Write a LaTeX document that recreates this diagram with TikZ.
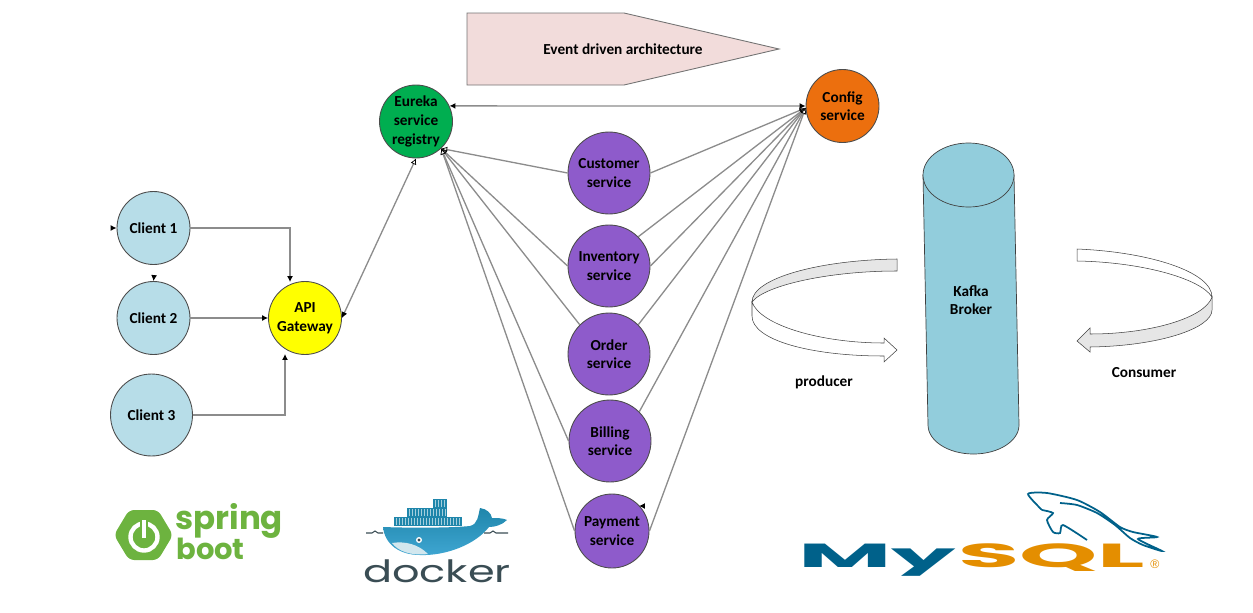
\documentclass[tikz,border=0pt]{standalone}
\usepackage{fontspec}
\setmainfont{Carlito}
\newfontfamily\logofont{Poppins}
\newfontfamily\regfont{Liberation Sans}
\usetikzlibrary{arrows.meta}
\definecolor{clientblue}{HTML}{B7DDE8}
\definecolor{svcpurple}{HTML}{8E5BCB}
\definecolor{eurekagreen}{HTML}{00AE50}
\definecolor{gateyellow}{HTML}{FFFF00}
\definecolor{configorange}{HTML}{EC6F0E}
\definecolor{kafkablue}{HTML}{92CDDC}
\definecolor{bannerpink}{HTML}{F2DCDB}
\definecolor{bandgrey}{HTML}{E6E6E6}
\definecolor{linkgrey}{HTML}{8C8C8C}
\definecolor{springgreen}{HTML}{6DB33F}
\definecolor{dockerblue}{HTML}{1F86AB}
\definecolor{dockerlight}{HTML}{3FA6D2}
\definecolor{dockerdark}{HTML}{3A4D54}
\definecolor{mysqlblue}{HTML}{00618A}
\definecolor{mysqlorange}{HTML}{E48E00}
\tikzset{
	lbl/.style={font=\fontsize{8.7}{10.6}\selectfont\bfseries, align=center},
	disc/.style={circle, draw=black!70, line width=0.5pt, inner sep=0pt, lbl},
	clientnode/.style={disc, fill=clientblue, minimum size=1.46cm},
	svcnode/.style={disc, fill=svcpurple, minimum size=1.64cm},
	link/.style={draw=linkgrey, line width=0.75pt},
	solidtip/.style={link, line width=0.6pt, -{Latex[black, length=3.4pt, width=3.4pt]}},
	opentip/.style={link, -{Latex[open, black, fill=white, length=3.4pt, width=3.4pt, line width=0.4pt]}},
	band/.style={draw=black!75, line width=0.3pt}
}
\begin{document}
\begin{tikzpicture}[x=0.02cm, y=-0.02cm]
	\useasboundingbox (0,0) rectangle (1253,612);

	% banner
	\draw [fill=bannerpink, draw=black!55, line width=0.5pt] (467,13) -- (624,13) -- (779,49) -- (624,85) -- (467,85) -- cycle;
	\node (banner) [lbl, inner sep=0pt] at (623,49) {Event driven architecture};

	% clients
	\node (client1) [clientnode] at (153.5,228) {Client 1};
	\node (client2) [clientnode] at (153.5,318) {Client 2};
	\node (client3) [clientnode, minimum size=1.64cm] at (151.5,415) {Client 3};
	\node (gateway) [disc, fill=gateyellow, minimum size=1.46cm] at (305,318) {API\\Gateway};
	\node (eureka) [disc, fill=eurekagreen, minimum size=1.46cm] at (416,121.5) {Eureka\\service\\registry};
	\node (config) [disc, fill=configorange, minimum size=1.46cm] at (842.5,106) {Config\\service};

	% services
	\node (customer) [svcnode] at (609,173) {Customer\\service};
	\node (inventory) [svcnode] at (609,266) {Inventory\\service};
	\node (order) [svcnode] at (609,354) {Order\\service};
	\node (billing) [svcnode] at (610,441) {Billing\\service};
	\node (payment) [svcnode, minimum size=1.48cm] at (612,531) {Payment\\service};

	% clients to gateway
	\draw [solidtip] (client1.east) -- (290,228) -- (290,282);
	\draw [solidtip] (client2.east) -- (gateway.west);
	\draw [solidtip] (client3.east) -- (285,415) -- (285,354);

	% gateway to registry
	\draw [link, {Latex[black, length=3.4pt, width=3.4pt]}-{Latex[open, black, fill=white, length=3.4pt, width=3.4pt, line width=0.4pt]}] (gateway.east) -- (eureka.south);

	% config to registry
	\draw [link, {Latex[black, length=3.4pt, width=3.4pt]}-{Latex[black, length=3.4pt, width=3.4pt]}] (eureka.25) -- (config.west);

	% services to registry
	\foreach \svc/\ang in {customer/180, inventory/180, order/135, billing/180, payment/180}
		\draw [opentip] (\svc.\ang) -- (eureka.-47);

	% services to config
	\foreach \svc/\ang in {customer/0, inventory/45, inventory/0, order/45, billing/45, payment/0}
		\draw [opentip] (\svc.\ang) -- (config.183);

	% stray tips
	\coordinate (strayA) at (112,228);
	\coordinate (strayB) at (154,276);
	\coordinate (strayC) at (645,506);
	\coordinate (strayD) at (639,506);
	\draw [solidtip] (strayA) -- (client1.west);
	\draw [solidtip] (strayB) -- (client2.north);
	\draw [solidtip, draw=black] (strayC) -- (strayD);

	% kafka
	\draw [fill=kafkablue, draw=black!75, line width=0.4pt] (923,175) -- (928,425) arc [start angle=180, end angle=0, x radius=45.5, y radius=29] -- (1014,175) -- cycle;
	\draw [fill=kafkablue, draw=black!75, line width=0.4pt] (968.5,175) ellipse [x radius=45.5, y radius=32];
	\node (kafka) [lbl, inner sep=0pt] at (971,300) {Kafka\\Broker};

	% producer
	\draw [band, fill=bandgrey] (897,259) .. controls (820,260) and (752,278) .. (752,302) .. controls (765,285) and (830,271) .. (897,271) -- cycle;
	\draw [band, fill=white] (752,302) .. controls (760,325) and (820,343) .. (884,343) -- (884,338) -- (897,350) -- (884,362) -- (884,356) .. controls (810,356) and (752,340) .. (752,316) -- cycle;
	\node (producer) [lbl, inner sep=0pt] at (824,382) {producer};

	% consumer
	\draw [band, fill=white] (1077,249) .. controls (1150,252) and (1212,272) .. (1212,297) .. controls (1200,278) and (1140,262) .. (1077,261) -- cycle;
	\draw [band, fill=bandgrey] (1212,297) .. controls (1205,318) and (1150,334) .. (1090,334) -- (1090,328) -- (1077,341) -- (1090,352) -- (1090,347) .. controls (1160,346) and (1212,328) .. (1212,310) -- cycle;
	\node (consumer) [lbl, inner sep=0pt] at (1144,373) {Consumer};

	% spring boot
	\fill [springgreen, rounded corners=3pt] (114,535) -- (129,510) -- (158,510) -- (173,535) -- (158,560) -- (129,560) -- cycle;
	\draw [white, line width=2.5pt] (144,537) circle [radius=13.5];
	\draw [springgreen, line width=4.5pt] (144,518) -- (144,530);
	\draw [white, line width=2.5pt] (144,520) -- (144,538);
	\node (spring) [text=springgreen, font=\logofont\bfseries\fontsize{18.5}{19}\selectfont, inner sep=0pt, anchor=base west] at (175,529) {spring};
	\node (boot) [text=springgreen, font=\logofont\bfseries\fontsize{16.5}{17}\selectfont, inner sep=0pt, anchor=base west] at (176,559) {boot};

	% docker
	\fill [dockerblue] (394,517) rectangle (462,526);
	\fill [dockerblue] (407,508) rectangle (447,517);
	\fill [dockerblue] (433,499) rectangle (447,508);
	\foreach \xx in {396,399,...,460}
		\draw [white!60!dockerblue, line width=0.3pt] (\xx,518) -- (\xx,525);
	\foreach \xx in {409,412,...,445}
		\draw [white!60!dockerblue, line width=0.3pt] (\xx,509) -- (\xx,516);
	\foreach \xx in {435,438,...,445}
		\draw [white!60!dockerblue, line width=0.3pt] (\xx,500) -- (\xx,507);
	\shade [top color=dockerblue, bottom color=dockerlight] (383,527) .. controls (410,528) and (450,528) .. (470,526) .. controls (478,524) and (478,516) .. (480,508) .. controls (487,509) and (491,513) .. (492,518) .. controls (497,518) and (503,518) .. (507,520) .. controls (502,525) and (495,527) .. (489,527) .. controls (475,545) and (445,556) .. (420,555) .. controls (400,555) and (385,545) .. (383,527) -- cycle;
	\fill [white!80!dockerblue] (392,543) .. controls (405,541) and (418,544) .. (428,554) .. controls (410,556) and (398,551) .. (392,543) -- cycle;
	\fill [white] (419,540) circle [radius=3];
	\fill [dockerdark] (419,540) circle [radius=1.7];
	\draw [dockerdark, line width=0.6pt] (366,533) -- (372,533) -- (375,531) -- (378,533) -- (383,533) (484,533) -- (490,533) -- (493,531) -- (496,533) -- (508,533);
	\node (docker) [text=dockerdark, font=\logofont\fontsize{17.5}{18}\selectfont, inner sep=0pt, anchor=base, xscale=1.4, transform shape] at (437,582) {docker};

	% mysql
	\node (my) [text=mysqlblue, font=\logofont\bfseries\fontsize{19}{19}\selectfont, inner sep=0pt, anchor=base west, xscale=3.05, transform shape] at (797,567) {My};
	\node (sql) [text=mysqlorange, font=\logofont\bfseries\fontsize{19}{19}\selectfont, inner sep=0pt, anchor=base west, xscale=2.98, transform shape] at (957,567) {SQL};
	\node (reg) [text=mysqlorange, font=\regfont\fontsize{7}{7}\selectfont, inner sep=0pt] at (1155,564) {®};
	\draw [mysqlblue, line width=1pt] plot [smooth, tension=0.4] coordinates {(1042,510) (1028,494) (1047,493) (1077,500) (1100,512) (1120,527) (1133,532) (1157,537) (1138,539) (1162,551) (1143,545) (1130,538) (1115,525) (1097,513) (1077,505) (1060,503)};
	\draw [mysqlblue, line width=1pt] plot [smooth, tension=0.4] coordinates {(1042,510) (1053,513) (1047,520) (1053,532) (1060,533) (1063,525) (1087,540)};
\end{tikzpicture}
\end{document}
